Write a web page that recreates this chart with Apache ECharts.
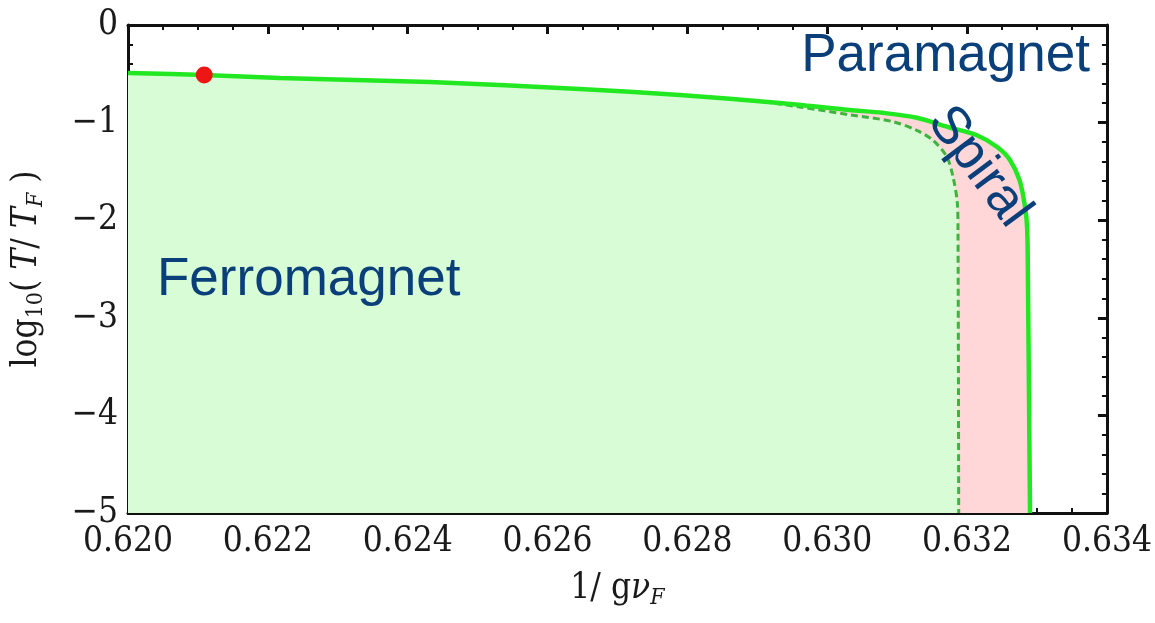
<!DOCTYPE html>
<html>
<head>
<meta charset="utf-8">
<script src="https://cdn.jsdelivr.net/npm/echarts@6/dist/echarts.min.js"></script>
<style>
  html, body { margin: 0; padding: 0; background: #fff; }
  #chart { width: 1155px; height: 623px; }
</style>
</head>
<body>
<div id="chart"></div>
<script>
// Phase boundary (solid): paramagnet / ordered transition
const solidX = [0.62000, 0.62109, 0.62217, 0.62432, 0.62646, 0.62789, 0.62932, 0.63032,
                0.63079, 0.63128, 0.63175, 0.63214, 0.63243, 0.63261, 0.63275, 0.63283, 0.63286, 0.63287, 0.63290];
const solidY = [-0.492, -0.512, -0.543, -0.584, -0.656, -0.717, -0.799, -0.871,
                -0.90, -0.95, -1.05, -1.13, -1.25, -1.38, -1.59, -1.87, -2.10, -2.6, -5];

// Ferromagnet / spiral boundary (dashed), branching off the solid curve
const dashedX = [0.62894, 0.62961, 0.63032, 0.63094, 0.63128, 0.63151, 0.63171, 0.63180, 0.63186, 0.63187, 0.63188];
const dashedY = [-0.77, -0.84, -0.92, -0.99, -1.08, -1.18, -1.35, -1.56, -1.82, -2.10, -5];

// Marked point on the boundary
const markX = [0.62109];
const markY = [-0.512];

// Axis ticks
const xTicks = [0.620, 0.622, 0.624, 0.626, 0.628, 0.630, 0.632, 0.634];
const yTicks = [0, -1, -2, -3, -4, -5];

const zip = (xs, ys) => xs.map((x, i) => [x, ys[i]]);
const solidPts = zip(solidX, solidY);
const dashedPts = zip(dashedX, dashedY);
// Ferromagnet region: follows the solid curve until the dashed branch splits off
const ferroPts = solidPts.filter(p => p[0] < dashedX[0]).concat(dashedPts);

const tickFont = '"DejaVu Serif Condensed", "Liberation Serif", serif';
const ink = '#1a1a1a';
const numStyle = { fontFamily: tickFont, fontSize: 35, color: ink };
const axisCommon = {
  type: 'value',
  axisLine: { show: true, onZero: false, lineStyle: { color: '#111', width: 3 } },
  axisTick: { show: true, inside: true, length: 9, lineStyle: { color: '#111', width: 3 } },
  minorTick: { show: true, length: 5, lineStyle: { color: '#111', width: 2 } },
  splitLine: { show: false },
  minorSplitLine: { show: false }
};

const chart = echarts.init(document.getElementById('chart'));
chart.setOption({
  animation: false,
  textStyle: { fontFamily: tickFont },
  grid: { left: 128, right: 48, top: 25, bottom: 110 },
  xAxis: [
    Object.assign({}, axisCommon, {
      min: xTicks[0], max: xTicks[xTicks.length - 1], interval: 0.002,
      minorTick: Object.assign({}, axisCommon.minorTick, { splitNumber: 4 }),
      axisLabel: {
        margin: 11, fontFamily: tickFont, fontSize: 35, color: ink,
        formatter: v => '{n|' + v.toFixed(3) + '}',
        rich: { n: numStyle }
      },
      name: '{a|1/ g}{i|ν}{s|F}',
      nameLocation: 'middle', nameGap: 55,
      nameTextStyle: {
        rich: {
          a: { fontFamily: tickFont, fontSize: 35, color: ink, lineHeight: 42, verticalAlign: 'middle' },
          i: { fontFamily: tickFont, fontStyle: 'italic', fontSize: 35, color: ink, lineHeight: 42, verticalAlign: 'middle' },
          s: { fontFamily: tickFont, fontStyle: 'italic', fontSize: 23, color: ink, lineHeight: 23, verticalAlign: 'bottom' }
        }
      }
    }),
    Object.assign({}, axisCommon, {
      position: 'top',
      min: xTicks[0], max: xTicks[xTicks.length - 1], interval: 0.002,
      minorTick: Object.assign({}, axisCommon.minorTick, { splitNumber: 4 }),
      axisLabel: { show: false }
    })
  ],
  yAxis: [
    Object.assign({}, axisCommon, {
      min: yTicks[yTicks.length - 1], max: yTicks[0], interval: 1,
      minorTick: Object.assign({}, axisCommon.minorTick, { splitNumber: 5 }),
      axisLabel: {
        margin: 10, fontFamily: tickFont, fontSize: 35, color: ink,
        formatter: v => '{n|' + (v < 0 ? '\u2212' + Math.abs(v) : String(v)) + '}',
        rich: { n: numStyle }
      },
      name: '{a|log}{s|10}{a|( }{i|T}{a|/ }{i|T}{si|F}{a| )}',
      nameLocation: 'middle', nameGap: 80, nameRotate: 90,
      nameTextStyle: {
        rich: {
          a: { fontFamily: tickFont, fontSize: 35, color: ink, lineHeight: 42, verticalAlign: 'middle' },
          i: { fontFamily: tickFont, fontStyle: 'italic', fontSize: 35, color: ink, lineHeight: 42, verticalAlign: 'middle' },
          s: { fontFamily: tickFont, fontSize: 23, color: ink, lineHeight: 23, verticalAlign: 'bottom' },
          si: { fontFamily: tickFont, fontStyle: 'italic', fontSize: 23, color: ink, lineHeight: 23, verticalAlign: 'bottom' }
        }
      }
    }),
    Object.assign({}, axisCommon, {
      position: 'right',
      min: yTicks[yTicks.length - 1], max: yTicks[0], interval: 1,
      minorTick: Object.assign({}, axisCommon.minorTick, { splitNumber: 5 }),
      axisLabel: { show: false }
    })
  ],
  series: [
    { // spiral region (under the solid boundary)
      type: 'line', data: solidPts, showSymbol: false, z: 1, smooth: 0.3,
      lineStyle: { width: 0, opacity: 0 },
      areaStyle: { color: '#ffd7d9', opacity: 1, origin: 'start' }
    },
    { // ferromagnet region
      type: 'line', data: ferroPts, showSymbol: false, z: 2, smooth: 0.3,
      lineStyle: { width: 0, opacity: 0 },
      areaStyle: { color: '#d8fcd6', opacity: 1, origin: 'start' }
    },
    { // dashed boundary
      type: 'line', data: dashedPts, showSymbol: false, z: 3, smooth: 0.3,
      lineStyle: { color: '#3fb23f', width: 3, type: [7, 4] }
    },
    { // solid boundary
      type: 'line', data: solidPts, showSymbol: false, z: 4, smooth: 0.3,
      lineStyle: { color: '#22e822', width: 4.5 }
    },
    {
      type: 'scatter', data: zip(markX, markY), symbolSize: 17, z: 5,
      itemStyle: { color: '#ee1515', opacity: 1 }
    }
  ],
  graphic: [
    {
      type: 'text', left: 157, top: 254, z: 10,
      style: { text: 'Ferromagnet', font: '53px "Liberation Sans", Arial, sans-serif', fill: '#0a3f7a' }
    },
    {
      type: 'text', right: 1155 - 1090, top: 30, z: 10,
      style: { text: 'Paramagnet', font: '53px "Liberation Sans", Arial, sans-serif', fill: '#0a3f7a' }
    },
    {
      type: 'text', x: 979, y: 167, rotation: -0.93, z: 10,
      style: {
        text: 'Spiral', font: '53px "Liberation Sans", Arial, sans-serif', fill: '#0a3f7a',
        align: 'center', verticalAlign: 'middle'
      }
    }
  ]
});
</script>
</body>
</html>
